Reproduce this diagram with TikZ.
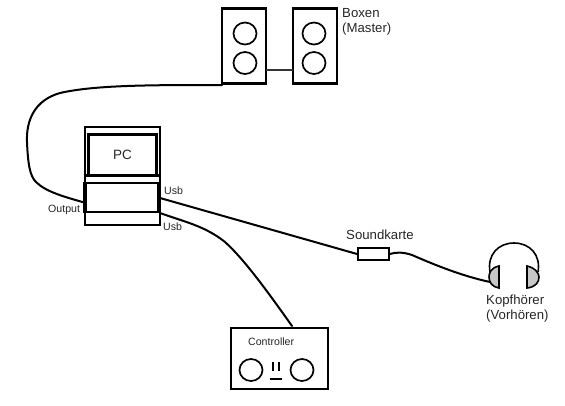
\documentclass[tikz,border=0pt]{standalone}
\usepackage{fontspec}
\setmainfont{Liberation Sans}
\usetikzlibrary{shapes.geometric}
\tikzset{
 box/.style={draw=black,line width=2.4pt,fill=white},
 cable/.style={draw=black,line width=2pt,line cap=round},
 lbl/.style={inner sep=0pt,font=\fontsize{13.2}{15}\selectfont,align=left,anchor=north west,text=black!85},
 small/.style={inner sep=0pt,font=\fontsize{10.6}{12}\selectfont,anchor=west,text=black!85},
 cone/.style={draw=black,line width=1.7pt,fill=white,ellipse,minimum width=23pt,minimum height=22pt,inner sep=0pt},
 cup/.style={draw=black,line width=1.6pt,fill=black!22},
}
\begin{document}
\begin{tikzpicture}[x=1pt,y=-1pt]
\useasboundingbox (0,0) rectangle (565,405);
% cables
\coordinate (pcout) at (86,203);
\coordinate (usbA) at (160,198);
\coordinate (usbB) at (160,213);
\coordinate (hpin) at (490,282);
% speakers
\node[box,minimum width=44pt,minimum height=75pt,inner sep=0pt] (spkL) at (244,46) {};
\node[box,minimum width=44pt,minimum height=75pt,inner sep=0pt] (spkR) at (315,46) {};
\node[cone] (c1) at (245,33.5) {};
\node[cone] (c2) at (245,63) {};
\node[cone] (c3) at (314,33.5) {};
\node[cone] (c4) at (314,63) {};
\coordinate (spkLa) at (266,70);
\coordinate (spkRa) at (293,70);
\draw[draw=black!80,line width=1.8pt] (spkLa) -- (spkRa);
\coordinate (spkLb) at (222,85);
\draw[cable] (spkLb) .. controls (150,85) and (95,85) .. (60,93)
  .. controls (35,100) and (26,120) .. (27,142)
  .. controls (28,165) and (30,176) .. (36,182)
  .. controls (46,192) and (65,197) .. (pcout);
% PC
\node[draw=black,line width=2.2pt,fill=white,minimum width=75pt,minimum height=98pt,inner sep=0pt] (pc) at (122.5,176) {};
\node[draw=black,line width=2.2pt,minimum width=68pt,minimum height=41pt,inner sep=0pt,font=\fontsize{13.5}{15}\selectfont,text=black!85] (mon) at (122.5,155) {PC};
\coordinate (pcl) at (85,175.5);
\coordinate (pcr) at (160,175.5);
\draw[line width=2.2pt] (pcl) -- (pcr);
\node[draw=black,line width=2.2pt,minimum width=72pt,minimum height=29pt,inner sep=0pt] (drv) at (122,197.5) {};
\draw[line width=3pt] (drv.north west) -- (drv.south west);
\draw[line width=3pt] (drv.north east) -- (drv.south east);
% soundcard
\node[box,line width=1.9pt,minimum width=31pt,minimum height=12pt,inner sep=0pt] (sk) at (373.5,254) {};
\draw[cable] (usbA) -- (sk.west);
\draw[cable] (sk.east) .. controls (396,252) and (403,252) .. (412,255)
  .. controls (435,265) and (462,276) .. (hpin);
% controller
\node[box,minimum width=97pt,minimum height=61pt,inner sep=0pt] (ctl) at (279.5,358.5) {};
\coordinate (ctlin) at (292,326);
\draw[cable] (usbB) .. controls (185,222) and (205,226) .. (225,242)
  .. controls (245,260) and (270,295) .. (ctlin);
\node[cone] (k1) at (251,370) {};
\node[cone] (k2) at (302,370) {};
\coordinate (b1a) at (273,362); \coordinate (b1b) at (273,371);
\coordinate (b2a) at (279,362); \coordinate (b2b) at (279,371);
\coordinate (b3a) at (270,379); \coordinate (b3b) at (282,379);
\draw[line width=1.4pt] (b1a) -- (b1b);
\draw[line width=1.4pt] (b2a) -- (b2b);
\draw[line width=1.4pt] (b3a) -- (b3b);
% headphones
\coordinate (ha) at (490,272);
\coordinate (hb) at (538,272);
\draw[line width=1.6pt] (ha) .. controls (487,255) and (498,243) .. (514,243)
  .. controls (530,243) and (541,255) .. (hb);
\draw[cup] (499,266) .. controls (490,268) and (489,274) .. (489,277) .. controls (489,282) and (492,287) .. (499,288) -- cycle;
\draw[cup] (527,266) .. controls (536,268) and (539,274) .. (539,277) .. controls (539,282) and (536,287) .. (527,288) -- cycle;
% labels
\node[lbl] (t1) at (342,8) {Boxen\\(Master)};
\node[lbl] (t2) at (346,229.5) {Soundkarte};
\node[lbl] (t3) at (486,295) {Kopfhörer\\(Vorhören)};
\node[small] (t4) at (48,209.5) {Output};
\node[small] (t5) at (164,191) {Usb};
\node[small] (t6) at (163,227) {Usb};
\node[small] (t7) at (248,342) {Controller};
\end{tikzpicture}
\end{document}
